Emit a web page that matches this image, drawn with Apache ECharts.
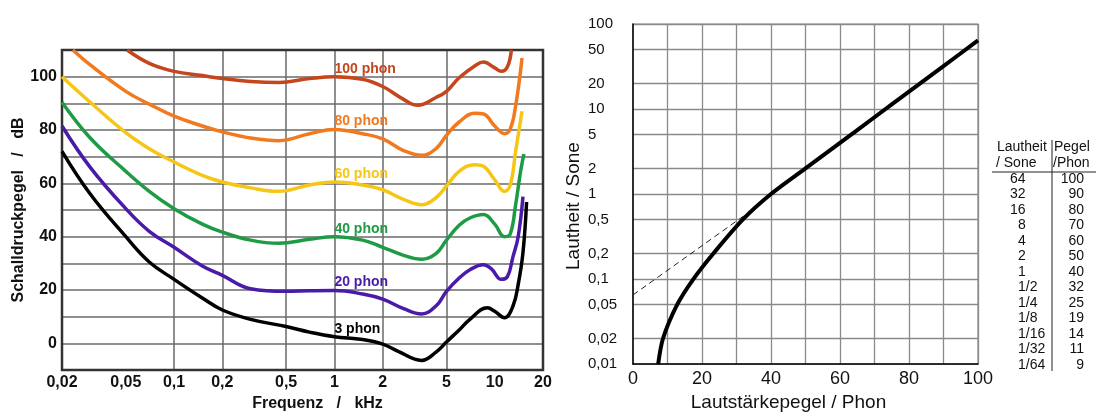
<!DOCTYPE html>
<html><head><meta charset="utf-8">
<script src="https://cdn.jsdelivr.net/npm/echarts@6/dist/echarts.min.js"></script>
<style>html,body{margin:0;padding:0;background:#fff}#c{width:1096px;height:417px}</style>
</head><body><div id="c"></div>
<script>
// ---------- data: left chart (equal-loudness contours) ----------
const freqTicks = [0.02, 0.05, 0.1, 0.2, 0.5, 1, 2, 5, 10, 20];
const freqGrid = [0.05, 0.1, 0.2, 0.5, 1, 2, 5, 10];
const dbLabelTicks = [0, 20, 40, 60, 80, 100];

const contourNames = ['100 phon', '80 phon', '60 phon', '40 phon', '20 phon', '3 phon'];

const freq100 = [0.051, 0.07, 0.1, 0.15, 0.2, 0.3, 0.45, 0.7, 1, 1.5, 2, 2.7, 3.3, 4.3, 5, 6, 7.5, 8.5, 10, 11, 12, 12.7];
const db100   = [110, 105, 102, 100.4, 99.3, 98.2, 97.8, 99.3, 100, 99, 96.3, 91.5, 89.3, 92.2, 94.5, 99.6, 104, 105.5, 103.3, 102, 103.7, 110];

const freq80 = [0.0234, 0.03, 0.05, 0.07, 0.1, 0.15, 0.2, 0.3, 0.45, 0.7, 1, 1.5, 2, 2.7, 3.5, 4.3, 5, 6, 7.5, 8.5, 10, 11.5, 12.5, 13.5, 14.8];
const db80   = [110, 104.4, 94.5, 89.7, 85.2, 81.5, 79.3, 77, 76, 78.6, 80.2, 78.6, 76.7, 72.3, 70.5, 73, 78, 83, 86.3, 86, 81.5, 78.6, 80.4, 89, 107];

const freq60 = [0.02, 0.03, 0.05, 0.07, 0.1, 0.15, 0.2, 0.3, 0.45, 0.7, 1, 1.5, 2, 2.7, 3.5, 4.3, 5, 6, 7.5, 8.5, 10, 11.5, 12.5, 13.5, 14.8];
const db60   = [100, 90.4, 79, 73, 68, 63, 60.5, 58.3, 57, 59.4, 60.5, 59.4, 57.6, 54, 52, 54.6, 59, 64.5, 67, 66.4, 61.3, 57, 59.4, 72, 87];

const freq40 = [0.02, 0.03, 0.05, 0.07, 0.1, 0.15, 0.2, 0.3, 0.45, 0.7, 1, 1.5, 2, 2.7, 3.5, 4.3, 5, 6, 7, 8.5, 10, 11.5, 12.5, 13.5, 14.5, 15.2];
const db40   = [90.4, 77, 64.5, 57, 50.5, 44.7, 41.7, 38.7, 37.5, 39, 40, 38.7, 36, 33, 31.5, 33.6, 38.7, 44.3, 47, 48.3, 44.7, 40, 41, 52, 64.5, 71];

const freq20 = [0.02, 0.03, 0.05, 0.07, 0.1, 0.15, 0.2, 0.3, 0.5, 0.7, 1, 1.5, 2, 2.7, 3.5, 4.3, 5, 6, 7, 8.5, 9.5, 11, 12, 13, 14, 15];
const db20   = [81.5, 66, 50.5, 42, 36, 29, 25.5, 20.5, 19.5, 19.7, 19.8, 18.5, 16.6, 13, 11, 14, 19.5, 24.5, 27.6, 29.5, 28, 24, 25, 32.5, 40, 55];

const freq3 = [0.02, 0.03, 0.05, 0.07, 0.1, 0.15, 0.2, 0.3, 0.5, 0.7, 1, 1.5, 2, 2.5, 3.5, 4.3, 5, 6, 7, 9, 10, 11.5, 13, 14, 15, 15.8];
const db3   = [72, 56, 40, 30.5, 24, 17, 12.5, 9, 6.3, 4.2, 2.5, 1.4, -0.3, -3, -6.4, -3.3, 0.5, 5, 9, 13.3, 12, 9.6, 14, 22, 34, 53];

// ---------- data: right chart (loudness vs level) ----------
const soneTicks = [0.01, 0.02, 0.05, 0.1, 0.2, 0.5, 1, 2, 5, 10, 20, 50, 100];
const phonCurve = [7.3, 8.7, 12.8, 17.5, 23.3, 31.8, 40, 50, 60, 70, 80, 90, 100];
const soneCurve = [0.01, 0.02, 0.05, 0.1, 0.2, 0.5, 1, 2, 4, 8, 16, 32, 64];
const phonDashed = [0, 32];
const soneDashed = [0.065, 0.55];

// ---------- data: table ----------
const tableHead1 = ['Lautheit', 'Pegel'];
const tableHead2 = ['/ Sone', '/Phon'];
const tableSone = ['64', '32', '16', '8', '4', '2', '1', '1/2', '1/4', '1/8', '1/16', '1/32', '1/64'];
const tablePhon = ['100', '90', '80', '70', '60', '50', '40', '32', '25', '19', '14', '11', '9'];

// ---------- build ----------
const FONT = "'Liberation Sans', Arial, Helvetica, sans-serif";
const contourColors = ['#c4461c', '#f27a1e', '#f6c617', '#1f9b45', '#4a1aa8', '#000000'];
const contourFreqs = [freq100, freq80, freq60, freq40, freq20, freq3];
const contourDbs = [db100, db80, db60, db40, db20, db3];
const comma = v => String(v).replace('.', ',');

const series = contourNames.map((name, i) => {
  const fr = contourFreqs[i], db = contourDbs[i];
  const at1k = db[fr.indexOf(1)];
  return {
    name, type: 'line', xAxisIndex: 0, yAxisIndex: 0,
    data: fr.map((f, j) => [f, db[j]]),
    smooth: 0.42, showSymbol: false, symbol: 'none',
    lineStyle: { color: contourColors[i], width: 3.5 },
    clip: true, z: 5,
    markPoint: {
      symbol: 'circle', symbolSize: 0, silent: true, animation: false,
      data: [{ coord: [1, at1k + 3] }],
      label: { show: true, position: 'right', distance: 0, formatter: name,
        color: contourColors[i], fontFamily: FONT, fontWeight: 'bold', fontSize: 14 }
    }
  };
});

series.push({
  type: 'line', xAxisIndex: 1, yAxisIndex: 1,
  data: phonCurve.map((p, j) => [p, soneCurve[j]]),
  smooth: 0.3, showSymbol: false, symbol: 'none',
  lineStyle: { color: '#000', width: 4 }, z: 5
});
series.push({
  type: 'line', xAxisIndex: 1, yAxisIndex: 1,
  data: phonDashed.map((p, j) => [p, soneDashed[j]]),
  showSymbol: false, symbol: 'none',
  lineStyle: { color: '#222', width: 1, type: [6, 4] }, z: 4
});

// table graphics
const graphics = [];
const tStyle = (t, x, y, align) => ({ type: 'text', x, y, style: { text: t, x: 0, y: 0, fill: '#111', font: '14px ' + FONT, textAlign: align, textVerticalAlign: 'middle' } });
graphics.push(tStyle(tableHead1[0], 997, 147, 'left'));
graphics.push(tStyle(tableHead1[1], 1054, 147, 'left'));
graphics.push(tStyle(tableHead2[0], 996, 163, 'left'));
graphics.push(tStyle(tableHead2[1], 1053, 163, 'left'));
graphics.push({ type: 'line', shape: { x1: 992, y1: 172, x2: 1096, y2: 172 }, style: { stroke: '#222', lineWidth: 1 } });
graphics.push({ type: 'line', shape: { x1: 1052, y1: 140, x2: 1052, y2: 371 }, style: { stroke: '#222', lineWidth: 1 } });
tableSone.forEach((s, i) => {
  const y = 179 + i * 15.5;
  const wide = s.length === 2 && s.indexOf('/') < 0;
  graphics.push(tStyle(s, wide ? 1010 : 1018, y, 'left'));
  graphics.push(tStyle(tablePhon[i], 1084, y, 'right'));
});

const option = {
  backgroundColor: '#fff',
  animation: false,
  grid: [
    { left: 62, top: 50, width: 481, height: 325, show: true, borderColor: '#333', borderWidth: 2.5, backgroundColor: 'transparent', z: 3 },
    { left: 633, top: 24, width: 345, height: 348, show: true, borderColor: '#8a8a8a', borderWidth: 1.2, backgroundColor: 'transparent' }
  ],
  xAxis: [
    { type: 'log', gridIndex: 0, logBase: 10, min: 0.02, max: 20,
      axisLine: { show: false }, axisTick: { show: false, customValues: freqGrid },
      axisLabel: { customValues: freqTicks, formatter: v => comma(+v.toPrecision(3)), margin: 5,
        fontFamily: FONT, fontWeight: 'bold', fontSize: 16, color: '#111' },
      splitLine: { show: true, showMinLine: false, showMaxLine: false, lineStyle: { color: '#6a6a6a', width: 1.5 } },
      name: 'Frequenz   /   kHz', nameLocation: 'middle', nameGap: 26,
      nameTextStyle: { fontFamily: FONT, fontWeight: 'bold', fontSize: 16, color: '#111', padding: [0, 0, 0, 30] }
    },
    { type: 'value', gridIndex: 1, min: 0, max: 100, interval: 10,
      axisLine: { show: true, onZero: false, lineStyle: { color: '#000', width: 1.5 } }, axisTick: { show: false },
      axisLabel: { formatter: v => (v % 20 === 0 ? String(v) : ''), margin: 6, fontFamily: FONT, fontSize: 18, color: '#111' },
      splitLine: { show: true, showMinLine: false, lineStyle: { color: '#8a8a8a', width: 1.3 } },
      name: 'Lautstärkepegel / Phon', nameLocation: 'middle', nameGap: 26,
      nameTextStyle: { fontFamily: FONT, fontSize: 19, color: '#111', padding: [0, 34, 0, 0] }
    }
  ],
  yAxis: [
    { type: 'value', gridIndex: 0, min: -10, max: 110, interval: 10,
      axisLine: { show: false }, axisTick: { show: false },
      axisLabel: { formatter: v => (dbLabelTicks.indexOf(v) >= 0 ? String(v) : ''), margin: 5,
        fontFamily: FONT, fontWeight: 'bold', fontSize: 16, color: '#111' },
      splitLine: { show: true, showMinLine: false, showMaxLine: false, lineStyle: { color: '#6a6a6a', width: 1.5 } },
      name: 'Schalldruckpegel   /   dB', nameLocation: 'middle', nameGap: 32, nameRotate: 90,
      nameTextStyle: { fontFamily: FONT, fontWeight: 'bold', fontSize: 16, color: '#111' }
    },
    { type: 'log', gridIndex: 1, logBase: 10, min: 0.01, max: 100,
      axisLine: { show: true, onZero: false, lineStyle: { color: '#000', width: 1.5 } },
      axisTick: { show: false, customValues: soneTicks },
      axisLabel: { customValues: soneTicks, formatter: v => comma(+v.toPrecision(3)), margin: 45, align: 'left',
        fontFamily: FONT, fontSize: 15, color: '#111' },
      splitLine: { show: true, showMinLine: false, lineStyle: { color: '#8a8a8a', width: 1.3 } },
      name: 'Lautheit / Sone', nameLocation: 'middle', nameGap: 50, nameRotate: 90,
      nameTextStyle: { fontFamily: FONT, fontSize: 19, color: '#111', padding: [0, 24, 0, 0] }
    }
  ],
  graphic: graphics,
  series
};

const chart = echarts.init(document.getElementById('c'), null, { renderer: 'canvas' });
chart.setOption(option);
</script>
</body></html>
